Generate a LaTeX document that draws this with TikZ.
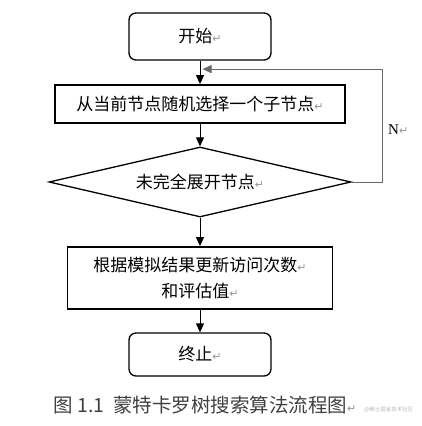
\documentclass[tikz,border=0pt]{standalone}
\usepackage{fontspec}
\setmainfont{Liberation Serif}
\newfontfamily\cjk{Noto Sans CJK SC}
\newfontfamily\symfont{DejaVu Sans}
\usepackage{xcolor}
\usetikzlibrary{arrows.meta, shapes.geometric, calc}
\definecolor{loopgray}{RGB}{105, 105, 105}
\definecolor{markgray}{RGB}{150, 150, 150}
\definecolor{wmgray}{RGB}{185, 185, 185}
\newcommand{\pmark}{{\symfont\fontsize{11}{11}\selectfont\textcolor{markgray}{↵}}}

\tikzset{
  termbox/.style={draw, rounded corners=7pt, line width=1.3pt, minimum width=142pt, inner sep=0pt},
  procbox/.style={draw, line width=1.8pt, inner sep=0pt},
  decbox/.style={draw, diamond, line width=1.3pt, minimum width=302pt, minimum height=70pt, aspect=4.3, inner sep=0pt},
  flow/.style={-{Triangle[length=9pt, width=8pt]}, line width=1pt},
}

\begin{document}
\begin{tikzpicture}[x=1pt, y=-1pt, font=\cjk\fontsize{17}{26}\selectfont]

  \useasboundingbox (0,0) rectangle (422,426);

  % Flow steps, top to bottom
  \node[termbox, minimum height=47pt] (start) at (200,36.5) {开始\pmark};
  \node[procbox, minimum width=290pt, minimum height=38pt] (select) at (200,104) {从当前节点随机选择一个子节点\pmark};
  \node[decbox] (check) at (200,182) {未完全展开节点\pmark};
  \node[procbox, minimum width=265pt, minimum height=62pt, align=center] (update) at (200,278) {根据模拟结果更新访问次数\pmark\\和评估值\pmark};
  \node[termbox, minimum height=43pt] (stop) at (200,354.5) {终止\pmark};

  % Main arrows
  \draw[flow] (start) -- (select);
  \draw[flow] (select) -- (check);
  \draw[flow] (check) -- (update);
  \draw[flow] (update) -- (stop);

  % N branch back above the select step
  \coordinate (merge) at ($(start.south)!0.36!(select.north)+(2.5,0)$);
  \draw[flow, loopgray, line width=0.8pt] (check.east) -- ++(31,0) |- (merge);
  \node[font=\fontsize{15}{15}\selectfont, anchor=west] (nlabel) at ($(check.east)+(33,-52)$) {N\pmark};

  % Caption and watermark
  \node[font=\cjk\fontsize{19.5}{20}\selectfont, text=black!75, anchor=west] (caption) at (50,405) {图 1.1\ \ 蒙特卡罗树搜索算法流程图\pmark};
  \node[font=\cjk\fontsize{5.5}{6}\selectfont, text=wmgray, anchor=west, inner sep=0pt] (wmark) at (364,410) {@稀土掘金技术社区};

\end{tikzpicture}
\end{document}
